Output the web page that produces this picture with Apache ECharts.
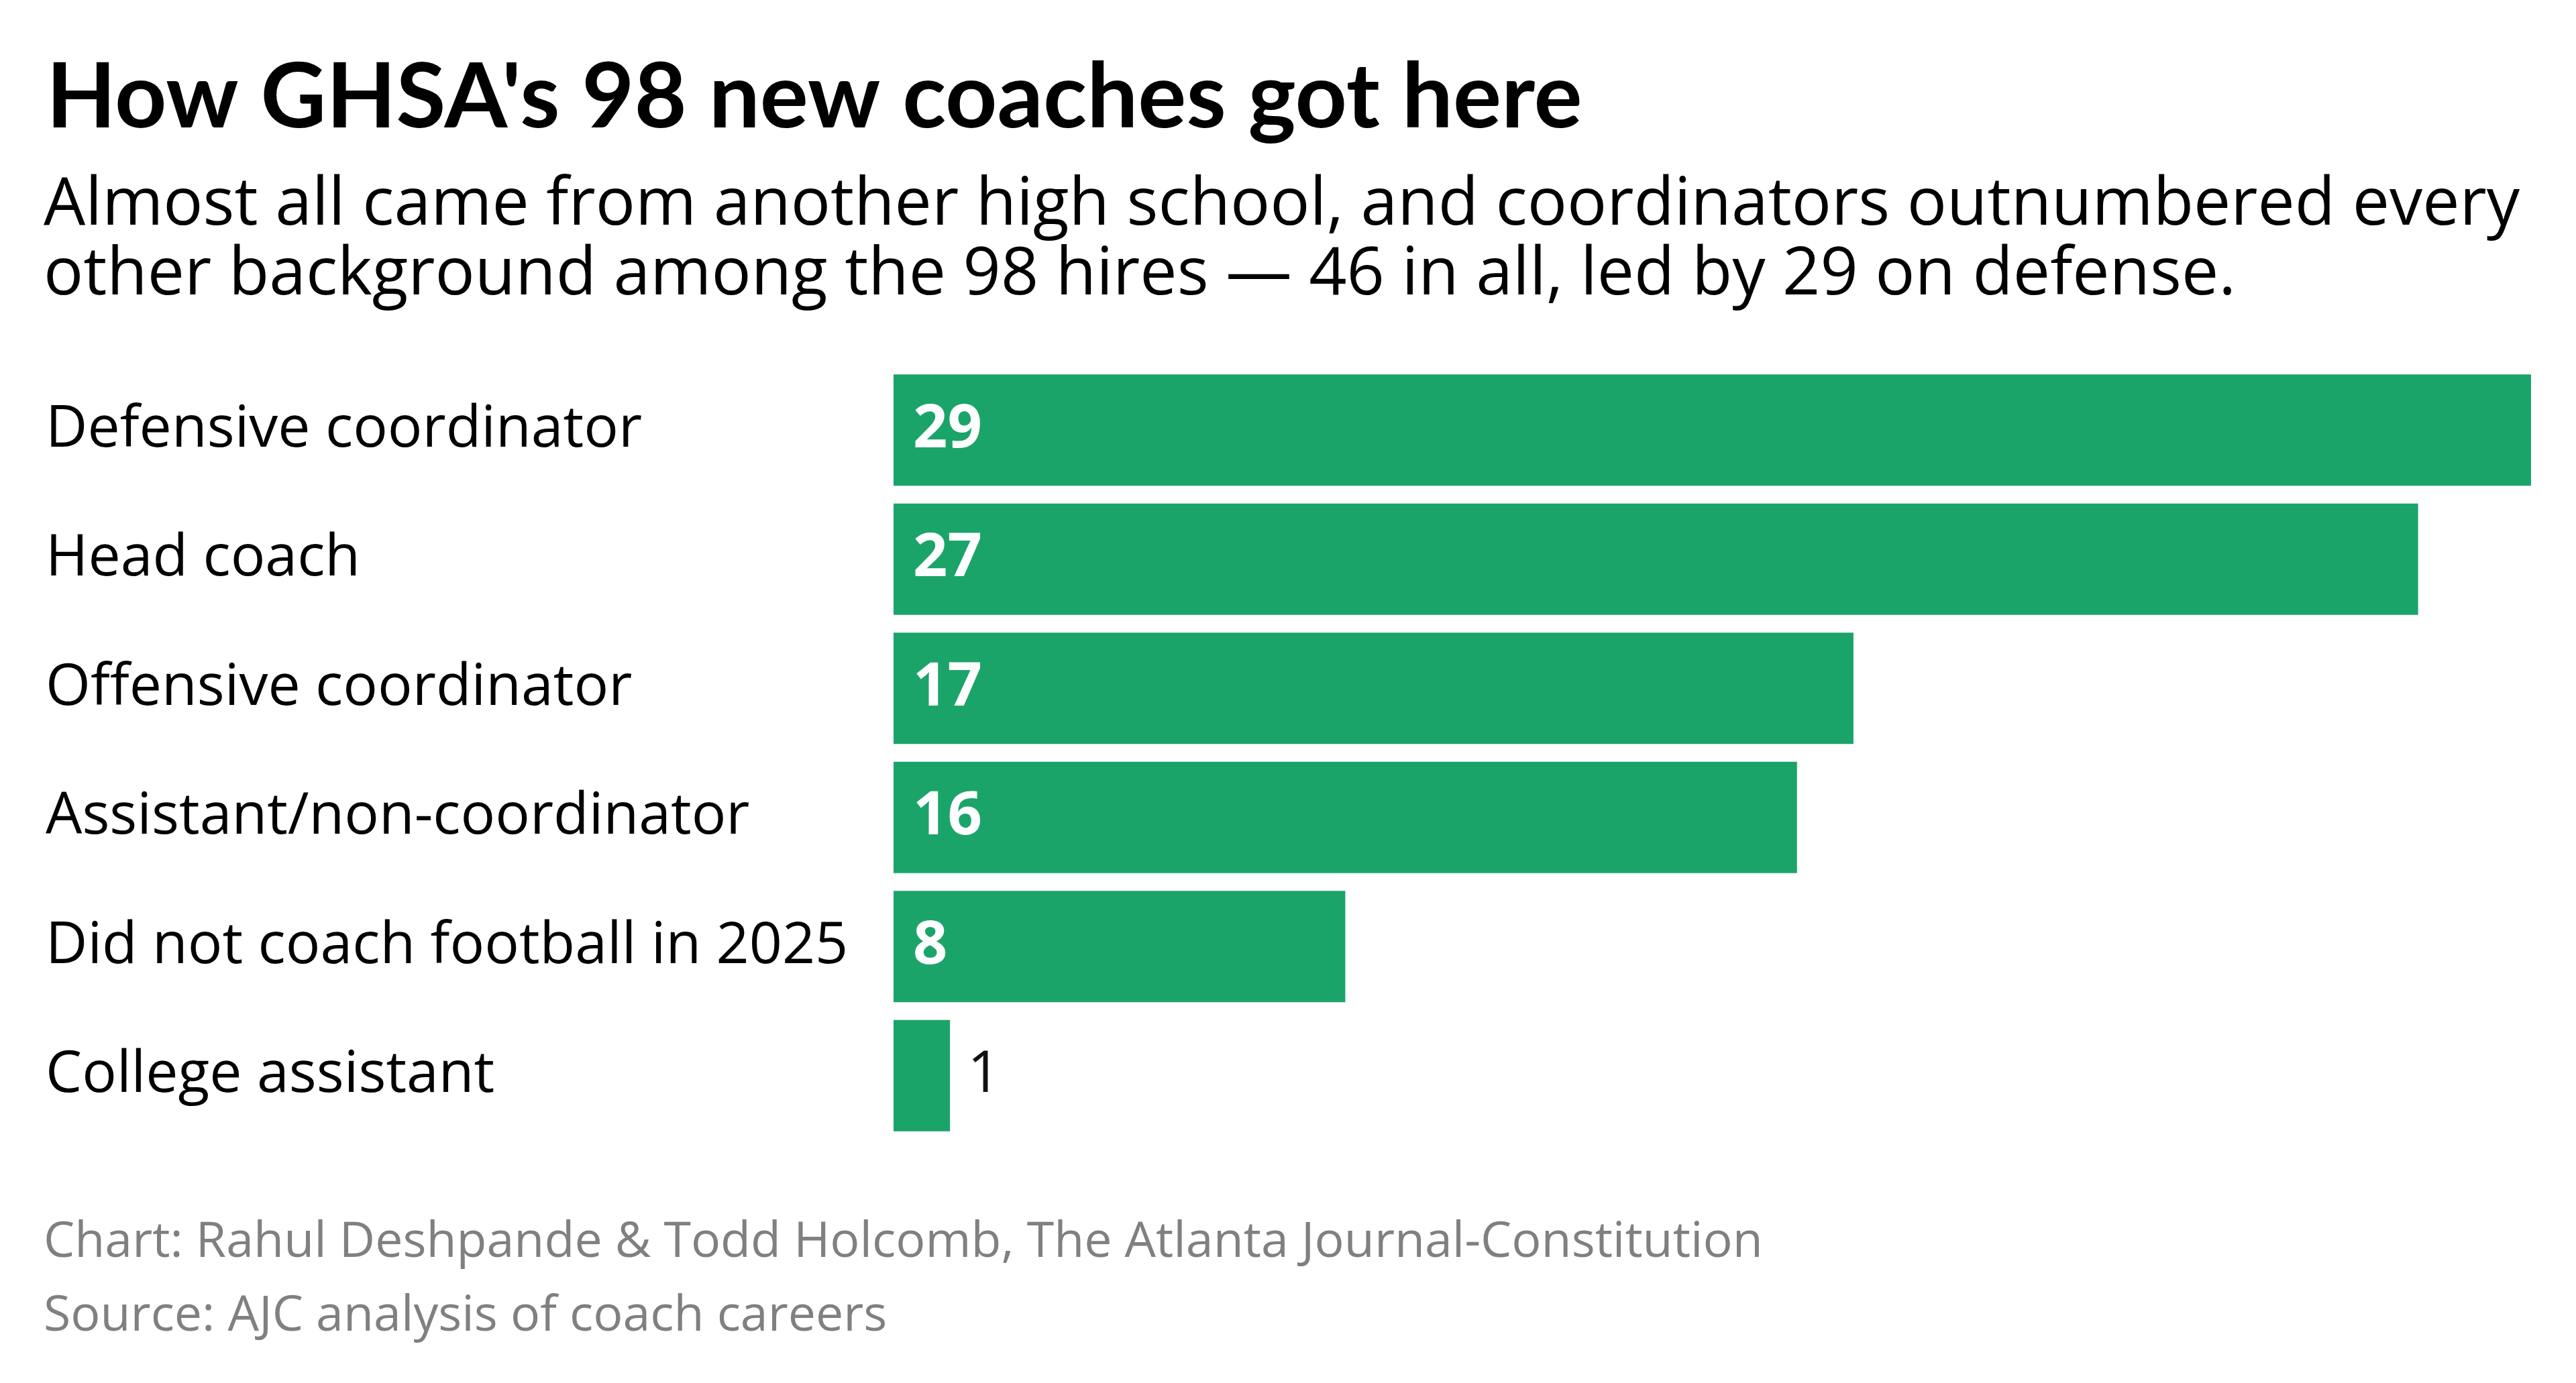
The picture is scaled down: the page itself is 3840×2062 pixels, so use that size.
<!DOCTYPE html>
<html>
<head>
<meta charset="utf-8">
<script src="https://cdn.jsdelivr.net/npm/echarts@6/dist/echarts.min.js"></script>
<style>
html,body{margin:0;padding:0;background:#fff;}
#chart{width:3840px;height:2062px;}
</style>
</head>
<body>
<div id="chart"></div>
<script>
const categories = [
  "Defensive coordinator",
  "Head coach",
  "Offensive coordinator",
  "Assistant/non-coordinator",
  "Did not coach football in 2025",
  "College assistant"
];
const counts = [29, 27, 17, 16, 8, 1];
const titleText = "How GHSA's 98 new coaches got here";
const subtitleText = "Almost all came from another high school, and coordinators outnumbered every\nother background among the 98 hires \u2014 46 in all, led by 29 on defense.";
const creditText = "Chart: Rahul Deshpande & Todd Holcomb, The Atlanta Journal-Constitution";
const sourceText = "Source: AJC analysis of coach careers";

const FONT = "'Open Sans', 'Noto Sans', sans-serif";
const TITLE_FONT = "Lato, 'Open Sans', sans-serif";
const GREEN = "#1ba46a";

const chart = echarts.init(document.getElementById('chart'), null, {renderer: 'canvas'});

const seriesData = counts.map(function (v) {
  const small = v < 3;
  return {
    value: v,
    label: small ? {
      position: 'right', distance: 26, color: '#111', fontWeight: 'normal', fontSize: 86
    } : {
      position: 'insideLeft', distance: 29, color: '#fff', fontWeight: 'bold', fontSize: 90
    }
  };
});

chart.setOption({
  backgroundColor: '#ffffff',
  animation: false,
  title: [
    {
      text: titleText, left: 64, top: 61,
      textStyle: {fontFamily: TITLE_FONT, fontSize: 135, fontWeight: 'bold', color: '#000', lineHeight: 160}
    },
    {
      text: subtitleText, left: 60, top: 250,
      textStyle: {fontFamily: FONT, fontSize: 98.5, fontWeight: 'normal', color: '#000', lineHeight: 104}
    },
    {
      text: creditText + "\n" + sourceText, left: 60, top: 1793,
      textStyle: {fontFamily: FONT, fontSize: 73.5, fontWeight: 'normal', color: '#808080', lineHeight: 110}
    }
  ],
  grid: {left: 1332, right: 67, top: 545, height: 1155, containLabel: false},
  xAxis: {
    type: 'value', min: 0, max: 29,
    show: false
  },
  yAxis: {
    type: 'category', data: categories, inverse: true,
    axisLine: {show: false}, axisTick: {show: false}, splitLine: {show: false},
    axisLabel: {
      align: 'left', margin: 1264, color: '#000',
      fontFamily: FONT, fontSize: 86, fontWeight: 'normal'
    }
  },
  series: [{
    type: 'bar', data: seriesData, barWidth: 166,
    itemStyle: {color: GREEN},
    label: {show: true, fontFamily: FONT},
    silent: true
  }]
});
</script>
</body>
</html>
